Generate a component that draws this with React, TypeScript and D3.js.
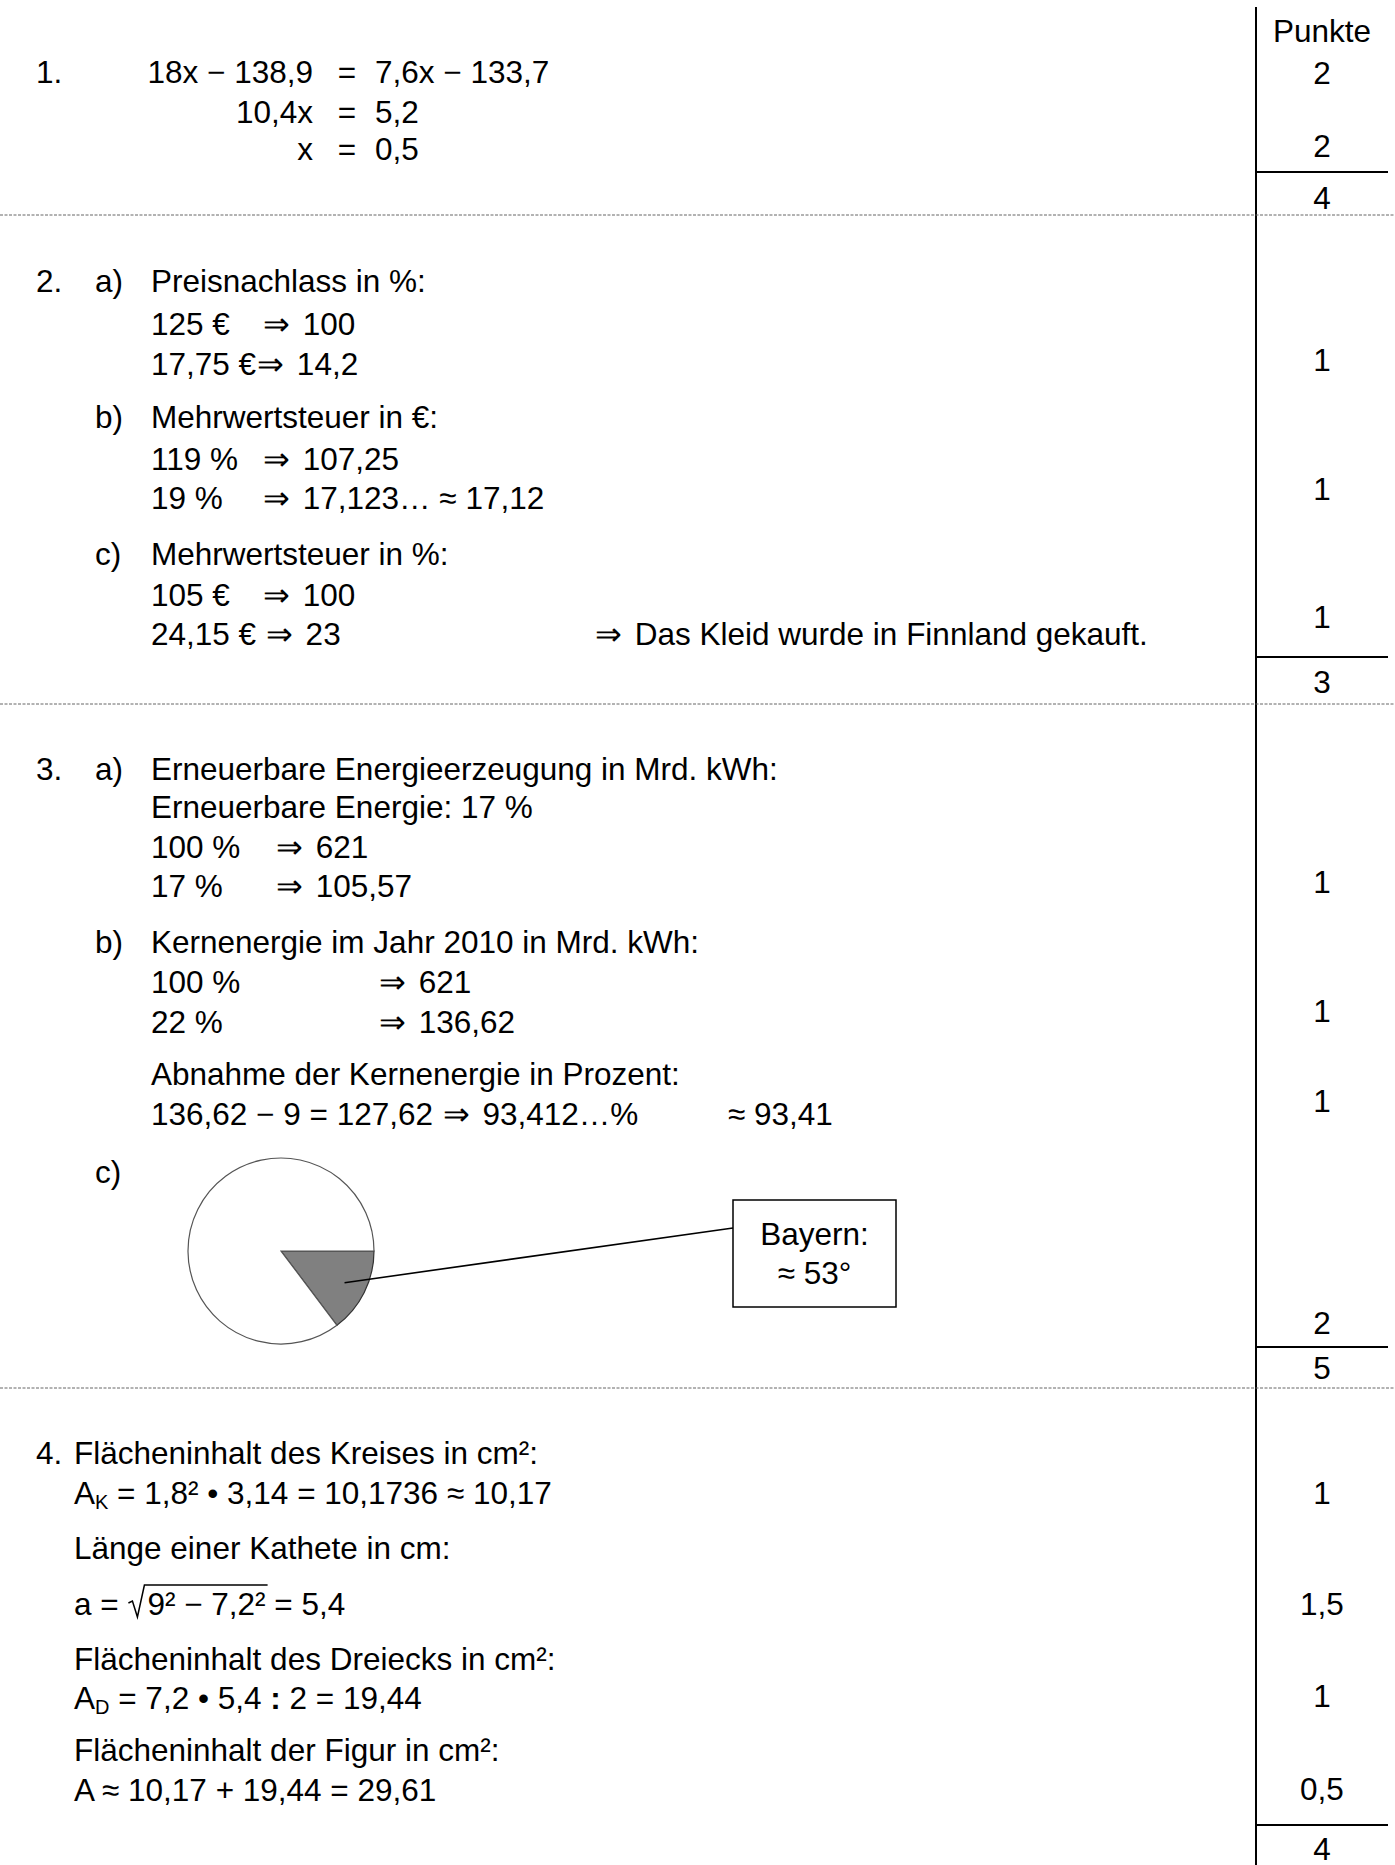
import * as d3 from "d3";

const FONT = "'Liberation Sans', Arial, Helvetica, sans-serif";
const FS = 31.5;

// ---- content ----
const punkteHeader = "Punkte";
const taskNumbers = ["1.", "2.", "3.", "4."];

const eq1Left = ["18x − 138,9", "10,4x", "x"];
const eq1Right = ["7,6x − 133,7", "5,2", "0,5"];

const task2Lines: string[][] = [
  ["a)", "Preisnachlass in %:"],
  ["", "125 €", "⇒ 100"],
  ["", "17,75 €⇒ 14,2"],
  ["b)", "Mehrwertsteuer in €:"],
  ["", "119 %", "⇒ 107,25"],
  ["", "19 %", "⇒ 17,123… ≈ 17,12"],
  ["c)", "Mehrwertsteuer in %:"],
  ["", "105 €", "⇒ 100"],
  ["", "24,15 € ⇒ 23", "⇒ Das Kleid wurde in Finnland gekauft."],
];

const task3Lines: string[][] = [
  ["a)", "Erneuerbare Energieerzeugung in Mrd. kWh:"],
  ["", "Erneuerbare Energie: 17 %"],
  ["", "100 %", "⇒ 621"],
  ["", "17 %", "⇒ 105,57"],
  ["b)", "Kernenergie im Jahr 2010 in Mrd. kWh:"],
  ["", "100 %", "⇒ 621"],
  ["", "22 %", "⇒ 136,62"],
  ["", "Abnahme der Kernenergie in Prozent:"],
  ["", "136,62 − 9 = 127,62 ⇒ 93,412…%", "≈ 93,41"],
  ["c)"],
];

const task4Headings = [
  "Flächeninhalt des Kreises in cm²:",
  "Länge einer Kathete in cm:",
  "Flächeninhalt des Dreiecks in cm²:",
  "Flächeninhalt der Figur in cm²:",
];
const sqrtInner = "9² − 7,2²";
const sqrtResult = "= 5,4";
const areaTotal = "A ≈ 10,17 + 19,44 = 29,61";

const pointValues = ["2", "2", "1", "1", "1", "1", "1", "1", "2", "1", "1,5", "1", "0,5"];
const subtotals = ["4", "3", "5", "4"];

const pieLabels = ["Bayern", "Rest"];
const pieDegrees = [53, 307];
const calloutLines = ["Bayern:", "≈ 53°"];

// ---- layout ----
const W = 1395;
const H = 1865;
const ruleX = 1256;
const ruleEnd = 1388;
const ptsX = 1322;
const numX = 36;
const subX = 95;
const textX = 151;
const t4X = 74;

const eq1Y = [83, 123, 160];
const t2Y = [292, 335, 375, 428, 470, 509, 565, 606, 645];
const t2Tab = [0, 262, 0, 0, 262, 262, 0, 262, 594];
const t3Y = [780, 818, 858, 897, 953, 993, 1033, 1085, 1125, 1183];
const t3Tab = [0, 0, 275, 275, 0, 378, 378, 0, 728, 0];
const t4Y = [1464, 1504, 1559, 1615, 1670, 1709, 1761, 1801];
const ptsY = [84, 157, 371, 500, 628, 893, 1022, 1112, 1334, 1504, 1615, 1707, 1800];
const subLineY = [172, 657, 1347, 1825];
const subTextY = [209, 693, 1379, 1860];
const dashY = [215, 704, 1388];
const numY = [83, 292, 780, 1464];

const ctx = document.createElement("canvas").getContext("2d")!;
function tw(s: string, size = FS) {
  ctx.font = `${size}px ${FONT}`;
  return ctx.measureText(s).width;
}

// text with a little extra room after each implication arrow (the original uses a wide Symbol glyph)
function T({ x, y, s }: { x: number; y: number; s: string }) {
  const parts = s.split("⇒");
  return (
    <text x={x} y={y} xmlSpace="preserve">
      {parts.map((p, i) => (
        <tspan key={i}>
          {i > 0 ? <tspan dx={1}>⇒</tspan> : null}
          {i > 0 ? <tspan dx={4}>{p}</tspan> : p}
        </tspan>
      ))}
    </text>
  );
}

function Rows({ lines, ys, tabs }: { lines: string[][]; ys: number[]; tabs: number[] }) {
  return (
    <g>
      {lines.map((l, i) => (
        <g key={i}>
          {l[0] ? <T x={subX} y={ys[i]} s={l[0]} /> : null}
          {l[1] ? <T x={textX} y={ys[i]} s={l[1]} /> : null}
          {l[2] ? <T x={tabs[i]} y={ys[i]} s={l[2]} /> : null}
        </g>
      ))}
    </g>
  );
}

export default function App() {
  const pieC = { x: 281, y: 1251 };
  const r = 93;
  const slices = d3
    .pie<number>()
    .sort(null)
    .startAngle(Math.PI / 2)
    .endAngle(Math.PI / 2 + 2 * Math.PI)(pieDegrees);
  const arc = d3.arc<d3.PieArcDatum<number>>().innerRadius(0).outerRadius(r);
  const anchorArc = d3.arc<d3.PieArcDatum<number>>().innerRadius(71).outerRadius(71);
  const [ax, ay] = anchorArc.centroid(slices[0]);
  const box = { x: 733, y: 1200, w: 163, h: 107 };

  // sqrt line geometry
  const aEq = "a = ";
  const radX = t4X + tw(aEq);
  const innerX = radX + 20;
  const innerW = tw(sqrtInner);
  const sy = t4Y[3];

  return (
    <svg
      width={W}
      height={H}
      style={{ position: "absolute", left: 0, top: 0, background: "#fff" }}
      fontFamily={FONT}
      fontSize={FS}
      fill="#000"
    >
      <rect width={W} height={H} fill="#fff" />
      {/* points column */}
      <line x1={ruleX} x2={ruleX} y1={7} y2={H} stroke="#000" strokeWidth={2} />
      <text x={ptsX} y={42} textAnchor="middle">{punkteHeader}</text>
      {pointValues.map((p, i) => (
        <text key={i} x={ptsX} y={ptsY[i]} textAnchor="middle">{p}</text>
      ))}
      {subtotals.map((s, i) => (
        <g key={i}>
          <line x1={ruleX} x2={ruleEnd} y1={subLineY[i]} y2={subLineY[i]} stroke="#000" strokeWidth={2} />
          <text x={ptsX} y={subTextY[i]} textAnchor="middle">{s}</text>
        </g>
      ))}
      {dashY.map((y, i) => (
        <line key={i} x1={0} x2={W} y1={y} y2={y} stroke="#666" strokeWidth={1} strokeDasharray="3 1.5" />
      ))}

      {taskNumbers.map((n, i) => (
        <text key={n} x={numX} y={numY[i]}>{n}</text>
      ))}

      {/* task 1 */}
      {eq1Left.map((s, i) => (
        <g key={i}>
          <text x={313} y={eq1Y[i]} textAnchor="end">{s}</text>
          <text x={347} y={eq1Y[i]} textAnchor="middle">=</text>
          <text x={375} y={eq1Y[i]}>{eq1Right[i]}</text>
        </g>
      ))}

      {/* task 2 */}
      <Rows lines={task2Lines} ys={t2Y} tabs={t2Tab} />

      {/* task 3 */}
      <Rows lines={task3Lines} ys={t3Y} tabs={t3Tab} />

      {/* pie */}
      <g transform={`translate(${pieC.x},${pieC.y})`}>
        {slices.map((s, i) => (
          <path
            key={pieLabels[i]}
            d={arc(s) || ""}
            fill={i === 0 ? "#808080" : "#fff"}
            stroke={i === 0 ? "#333" : "#555"}
            strokeWidth={1.2}
          />
        ))}
      </g>
      <line
        x1={pieC.x + ax}
        y1={pieC.y + ay}
        x2={box.x}
        y2={box.y + 28}
        stroke="#000"
        strokeWidth={1.6}
      />
      <rect x={box.x} y={box.y} width={box.w} height={box.h} fill="#fff" stroke="#000" strokeWidth={1.5} />
      {calloutLines.map((c, i) => (
        <text key={i} x={box.x + box.w / 2} y={box.y + 45 + i * 39} textAnchor="middle">{c}</text>
      ))}

      {/* task 4 */}
      <text x={t4X} y={t4Y[0]}>{task4Headings[0]}</text>
      <text x={t4X} y={t4Y[1]}>
        A<tspan fontSize={20} dy={5}>K</tspan>
        <tspan dy={-5}> = 1,8² • 3,14 = 10,1736 ≈ 10,17</tspan>
      </text>
      <text x={t4X} y={t4Y[2]}>{task4Headings[1]}</text>
      <text x={t4X} y={sy}>{aEq}</text>
      <path
        d={`M${radX + 1},${sy - 12} L${radX + 5},${sy - 14} L${radX + 10},${sy + 2} L${radX + 17},${sy - 30} L${innerX + innerW + 2},${sy - 30}`}
        fill="none"
        stroke="#000"
        strokeWidth={1.5}
      />
      <text x={innerX} y={sy}>{sqrtInner}</text>
      <text x={innerX + innerW + tw(" ")} y={sy}>{sqrtResult}</text>
      <text x={t4X} y={t4Y[4]}>{task4Headings[2]}</text>
      <text x={t4X} y={t4Y[5]}>
        A<tspan fontSize={20} dy={5}>D</tspan>
        <tspan dy={-5}> = 7,2 • 5,4 </tspan>
        <tspan fontWeight="bold">:</tspan>
        <tspan> 2 = 19,44</tspan>
      </text>
      <text x={t4X} y={t4Y[6]}>{task4Headings[3]}</text>
      <text x={t4X} y={t4Y[7]}>{areaTotal}</text>
    </svg>
  );
}
